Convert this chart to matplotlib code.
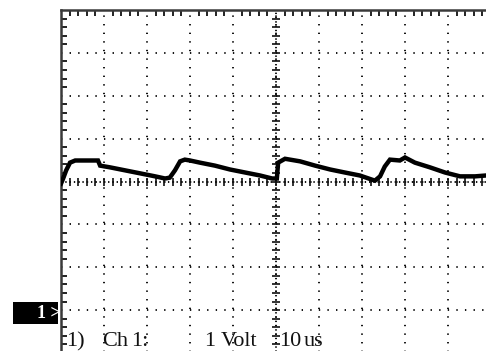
import numpy as np
import matplotlib
matplotlib.use('Agg')
from matplotlib import pyplot as plt
from matplotlib.patches import Rectangle

# Scope settings: 1 V/div, 10 us/div, ground marker 3 div below centre
volts_per_div = 1.0
us_per_div = 10.0
centre_volts = 3.0

# Trace (time in us, voltage in V)
t_us = [-50.0, -49.5, -48.8, -47.9, -46.7, -41.4, -40.9, -38.6, -35.1, -31.6,
        -28.1, -25.8, -24.7, -23.5, -22.3, -21.2, -20.0, -17.7, -14.2, -10.7,
        -7.2, -3.7, -0.9, 0.2, 0.5, 2.1, 5.6, 9.1, 12.6, 16.0,
        19.5, 23.0, 24.2, 25.3, 26.5, 28.8, 30.0, 32.3, 35.8, 39.3,
        42.8, 46.3, 48.8, 50.0]
v_volts = [2.95, 3.07, 3.26, 3.44, 3.49, 3.49, 3.37, 3.33, 3.26, 3.19,
           3.12, 3.07, 3.09, 3.26, 3.47, 3.51, 3.49, 3.44, 3.37, 3.28,
           3.21, 3.14, 3.07, 3.07, 3.44, 3.53, 3.47, 3.37, 3.28, 3.21,
           3.14, 3.02, 3.12, 3.35, 3.51, 3.49, 3.56, 3.44, 3.33, 3.21,
           3.12, 3.12, 3.14, 3.14]

label_words = ['1)', 'Ch', '1:', '1', 'Volt', '10', 'us']
label_x_px = [66, 102, 131, 204, 221, 279, 304]

W, H = 486, 351
fig = plt.figure(figsize=(W / 100, H / 100), dpi=100)
fig.patch.set_facecolor('white')

# axes runs off the right and bottom edge like the screenshot crop
ax = fig.add_axes([61 / W, -2 / H, 430 / W, 343 / H])
x_lo, x_hi = -5 * us_per_div, 5 * us_per_div
y_lo, y_hi = centre_volts - 4 * volts_per_div, centre_volts + 4 * volts_per_div
ax.set_xlim(x_lo, x_hi)
ax.set_ylim(y_lo, y_hi)

ax.set_xticks(np.arange(x_lo, x_hi + 0.1, us_per_div))
ax.set_yticks(np.arange(y_lo, y_hi + 0.01, volts_per_div))
ax.set_xticks(np.arange(x_lo, x_hi + 0.1, us_per_div / 5), minor=True)
ax.set_yticks(np.arange(y_lo, y_hi + 0.01, volts_per_div / 5), minor=True)
ax.tick_params(which='both', labelbottom=False, labelleft=False)
ax.tick_params(which='major', length=0)
ax.tick_params(which='minor', direction='in', length=4, width=1.4, color='#222222',
               top=True, bottom=False, left=True, right=False)

ax.grid(True, which='major', color='#111111', linewidth=1.4,
        linestyle=(0, (0.7, 3.72)))

# dense centre cross with small graticule ticks
ax.axhline(centre_volts, color='#111111', linewidth=1.4, linestyle=(0, (0.7, 1.5)))
ax.axvline(0, color='#111111', linewidth=1.4, linestyle=(0, (0.7, 1.5)))
minor_t = np.arange(x_lo, x_hi + 0.1, us_per_div / 5)
minor_v = np.arange(y_lo, y_hi + 0.01, volts_per_div / 5)
ax.plot(minor_t, np.full_like(minor_t, centre_volts), linestyle='none',
        marker='|', markersize=6, color='#111111', markeredgewidth=1.2)
ax.plot(np.zeros_like(minor_v), minor_v, linestyle='none',
        marker='_', markersize=6, color='#111111', markeredgewidth=1.2)

for side in ['right', 'bottom']:
    ax.spines[side].set_visible(False)
for side in ['left', 'top']:
    ax.spines[side].set_color('#3a3a3a')
    ax.spines[side].set_linewidth(1.8)

ax.plot(t_us, v_volts, color='black', linewidth=3.2, solid_joinstyle='miter',
        zorder=5)

# ground marker "1>"
gy = 1 - 313 / H
fig.patches.append(Rectangle((13 / W, (H - 324) / H), 45 / W, 22 / H,
                             transform=fig.transFigure, facecolor='black',
                             edgecolor='none'))
fig.text(61 / W, gy, '1 >', color='white', ha='right', va='center',
         fontsize=13, fontweight='bold', family='Liberation Serif')

# channel readout along the bottom
for word, xp in zip(label_words, label_x_px):
    fig.text(xp / W, 5 / H, word, ha='left', va='baseline',
             fontsize=16, family='Liberation Serif', color='#111111')

fig.savefig('out.png', dpi=100, facecolor='white')
